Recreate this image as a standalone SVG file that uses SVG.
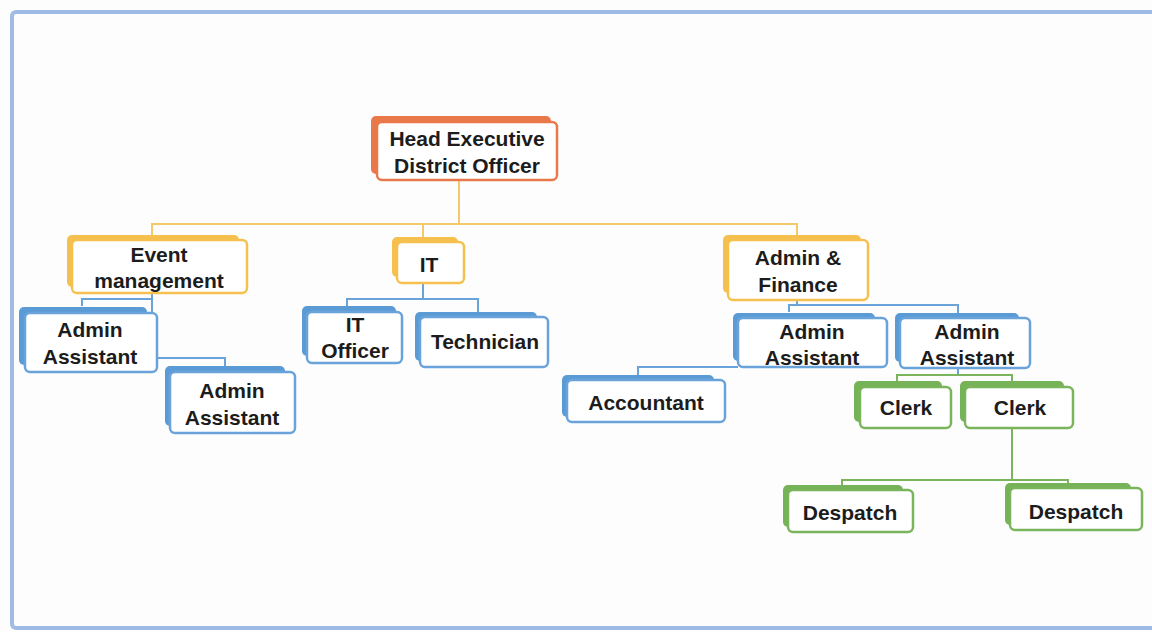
<svg xmlns="http://www.w3.org/2000/svg" width="1152" height="632" viewBox="0 0 1152 632">
<style>
text{font-family:"Liberation Sans",Arial,sans-serif;font-weight:bold;font-size:21px;fill:#1c1c1c;text-anchor:middle}
.f{fill:#fff;stroke-width:2.5}
.or .b{fill:#e9794a}.or .f{stroke:#e9794a}
.ye .b{fill:#f6c04f}.ye .f{stroke:#f6c04f}
.bl .b{fill:#5b9bd5}.bl .f{stroke:#6aa3da}
.gr .b{fill:#76b257}.gr .f{stroke:#7ab55c}
.c{fill:none;stroke-width:2}
.cy{stroke:#f4c96a}.cb{stroke:#6aa3da}.cg{stroke:#7ab55c}
</style>
<rect x="0" y="0" width="1152" height="632" fill="#fdfdfd"/>
<rect x="12" y="12" width="1150" height="616" rx="4" fill="none" stroke="#9fbbe6" stroke-width="4"/>
<g id="connectors">
<path class="c cy" d="M459 180V224M152 240V224H797V240M423 224V242"/>
<path class="c cb" d="M152 293V313M82 306V299H152M157 358H225V366"/>
<path class="c cb" d="M423 283V300M347 306V299H478V312"/>
<path class="c cb" d="M797 300V305M789 312V305H958V313M738 367H638V375M958 368V374"/>
<path class="c cg" d="M897 381V375H1012V381M1012 428V480M842 486V480H1068V484"/>
</g>
<g id="head" class="or"><rect class="b" x="371" y="116" width="180" height="58" rx="5"/><rect class="f" x="377" y="122" width="180" height="58" rx="5"/><text x="467" y="146">Head Executive</text><text x="467" y="173">District Officer</text></g>
<g id="event" class="ye"><rect class="b" x="67" y="235" width="172" height="52" rx="5"/><rect class="f" x="72" y="240" width="175" height="53" rx="5"/><text x="159" y="262">Event</text><text x="159" y="288">management</text></g>
<g id="it" class="ye"><rect class="b" x="392" y="237" width="66" height="40" rx="5"/><rect class="f" x="397" y="242" width="67" height="41" rx="5"/><text x="429" y="272">IT</text></g>
<g id="adminfinance" class="ye"><rect class="b" x="723" y="235" width="138" height="58" rx="5"/><rect class="f" x="728" y="240" width="140" height="60" rx="5"/><text x="798" y="265">Admin &amp;</text><text x="798" y="292">Finance</text></g>
<g id="aa1" class="bl"><rect class="b" x="19" y="307" width="128" height="58" rx="5"/><rect class="f" x="25" y="313" width="132" height="59" rx="5"/><text x="90" y="337">Admin</text><text x="90" y="364">Assistant</text></g>
<g id="aa2" class="bl"><rect class="b" x="165" y="366" width="120" height="60" rx="5"/><rect class="f" x="170" y="372" width="125" height="61" rx="5"/><text x="232" y="398">Admin</text><text x="232" y="425">Assistant</text></g>
<g id="itofficer" class="bl"><rect class="b" x="302" y="306" width="94" height="50" rx="5"/><rect class="f" x="307" y="312" width="95" height="51" rx="5"/><text x="355" y="332">IT</text><text x="355" y="358">Officer</text></g>
<g id="technician" class="bl"><rect class="b" x="415" y="312" width="122" height="49" rx="5"/><rect class="f" x="420" y="317" width="128" height="50" rx="5"/><text x="485" y="349">Technician</text></g>
<g id="aa3" class="bl"><rect class="b" x="733" y="313" width="142" height="48" rx="5"/><rect class="f" x="738" y="318" width="149" height="49" rx="5"/><text x="812" y="339">Admin</text><text x="812" y="365">Assistant</text></g>
<g id="accountant" class="bl"><rect class="b" x="562" y="375" width="152" height="42" rx="5"/><rect class="f" x="567" y="380" width="158" height="42" rx="5"/><text x="646" y="410">Accountant</text></g>
<g id="aa4" class="bl"><rect class="b" x="895" y="313" width="124" height="49" rx="5"/><rect class="f" x="900" y="318" width="130" height="50" rx="5"/><text x="967" y="339">Admin</text><text x="967" y="365">Assistant</text></g>
<g id="clerk1" class="gr"><rect class="b" x="854" y="381" width="88" height="41" rx="5"/><rect class="f" x="860" y="387" width="91" height="41" rx="5"/><text x="906" y="415">Clerk</text></g>
<g id="clerk2" class="gr"><rect class="b" x="960" y="381" width="104" height="41" rx="5"/><rect class="f" x="965" y="387" width="108" height="41" rx="5"/><text x="1020" y="415">Clerk</text></g>
<g id="despatch1" class="gr"><rect class="b" x="783" y="485" width="120" height="42" rx="5"/><rect class="f" x="788" y="490" width="125" height="42" rx="5"/><text x="850" y="520">Despatch</text></g>
<g id="despatch2" class="gr"><rect class="b" x="1005" y="483" width="126" height="42" rx="5"/><rect class="f" x="1010" y="488" width="132" height="42" rx="5"/><text x="1076" y="519">Despatch</text></g>
</svg>
